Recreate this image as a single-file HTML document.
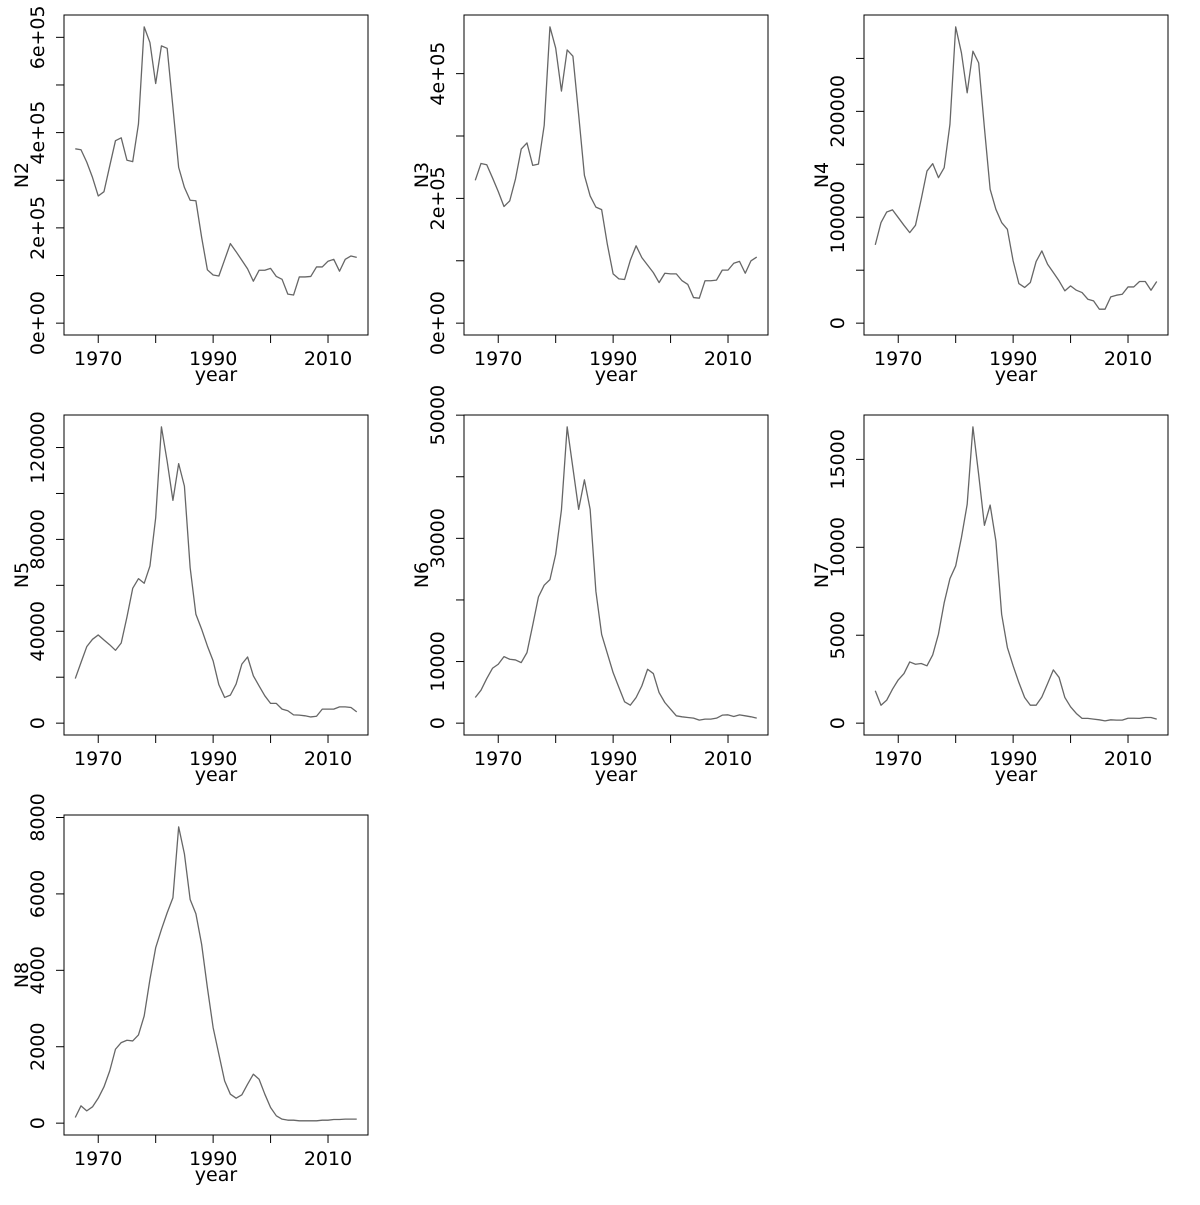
<!DOCTYPE html>
<html><head><meta charset="utf-8"><style>
html,body{margin:0;padding:0;background:#fff;}
svg text{font-family:"DejaVu Sans","Liberation Sans",sans-serif;font-size:19px;fill:#000;}
</style></head><body>
<svg id="chart" width="1200" height="1200" viewBox="0 0 1200 1200" xmlns="http://www.w3.org/2000/svg"></svg>
<script>
const years = [];
for (let y = 1966; y <= 2015; y++) years.push(y);
const xTicks = [1970, 1980, 1990, 2000, 2010];
const xTickLabels = ["1970", "", "1990", "", "2010"];

const n2 = [366,364,338,306,267,276,330,383,389,342,339,418,622,589,503,582,577,453,327,285,258,257,180,112,101,99,133,167,150,132,114,88,111,111,115,98,92,61,59,97,97,98,118,118,130,134,109,134,141,138].map(v=>v*1000);
const n3 = [229,256,254,233,211,187,196,231,279,289,253,255,317,475,441,372,438,428,334,237,204,186,182,126,79,71,70,101,124,105,93,81,65,80,79,79,68,62,41,40,68,68,69,85,85,96,99,80,100,106].map(v=>v*1000);
const n4 = [73.9,95,105,107,99.7,92.4,85.5,92.4,117,143.6,150.6,137.4,146.8,187.7,279.8,255.3,217.5,256.8,245.8,184.5,126.4,107.5,95,88.6,58.8,37.4,33.7,38.4,58.2,68.2,55.6,47.8,39.9,30.5,35.2,31.1,28.9,22.6,21,13.2,13.2,24.8,26.4,27.3,34.2,34.2,39.3,39.3,31.1,39.3].map(v=>v*1000);
const n5 = [19.4,26.4,33.3,36.5,38.4,36.2,34.1,31.7,34.9,46.2,58.7,62.9,60.9,68.4,89.4,129,114,97,113,103.2,67.7,47.4,40.9,33.6,27.1,16.7,11.2,12.2,17,25.7,28.8,20.6,16.2,11.9,8.6,8.6,6.1,5.4,3.6,3.5,3.2,2.7,3.0,6.1,6.1,6.1,7.1,7.1,6.8,4.9].map(v=>v*1000);
const n6 = [4.16,5.35,7.24,8.91,9.56,10.8,10.37,10.26,9.83,11.45,15.9,20.5,22.4,23.3,27.4,34.6,48.1,41.4,34.7,39.5,34.7,21.4,14.4,11.3,8.2,5.8,3.46,2.92,4.16,6.05,8.75,8.05,4.97,3.35,2.27,1.19,1.03,0.92,0.81,0.49,0.65,0.65,0.81,1.3,1.35,1.08,1.35,1.19,1.03,0.81].map(v=>v*1000);
const n7 = [1.84,1.02,1.31,1.93,2.46,2.82,3.48,3.35,3.39,3.26,3.88,5.06,6.85,8.22,8.94,10.55,12.44,16.85,14.14,11.25,12.4,10.36,6.19,4.3,3.26,2.31,1.46,1.02,1.02,1.49,2.25,3.03,2.6,1.46,0.93,0.55,0.27,0.27,0.23,0.19,0.13,0.19,0.17,0.17,0.28,0.28,0.27,0.32,0.32,0.23].map(v=>v*1000);
const n8 = [148,453,322,427,654,950,1368,1934,2108,2170,2152,2309,2806,3764,4592,5071,5507,5899,7755,7049,5855,5481,4679,3547,2501,1804,1106,758,654,741,1019,1281,1150,758,410,192,105,78,78,61,61,61,61,78,78,96,96,105,105,105];

const n2Ticks = [0,100000,200000,300000,400000,500000,600000];
const n2Labels = ["0e+00","","2e+05","","4e+05","","6e+05"];
const n3Ticks = [0,100000,200000,300000,400000];
const n3Labels = ["0e+00","","2e+05","","4e+05"];
const n4Ticks = [0,50000,100000,150000,200000,250000];
const n4Labels = ["0","","100000","","200000",""];
const n5Ticks = [0,20000,40000,60000,80000,100000,120000];
const n5Labels = ["0","","40000","","80000","","120000"];
const n6Ticks = [0,10000,20000,30000,40000,50000];
const n6Labels = ["0","10000","","30000","","50000"];
const n7Ticks = [0,5000,10000,15000];
const n7Labels = ["0","5000","10000","15000"];
const n8Ticks = [0,2000,4000,6000,8000];
const n8Labels = ["0","2000","4000","6000","8000"];

const panels = [
  {name:"N2", vals:n2, ticks:n2Ticks, labels:n2Labels, col:0, row:0},
  {name:"N3", vals:n3, ticks:n3Ticks, labels:n3Labels, col:1, row:0},
  {name:"N4", vals:n4, ticks:n4Ticks, labels:n4Labels, col:2, row:0},
  {name:"N5", vals:n5, ticks:n5Ticks, labels:n5Labels, col:0, row:1},
  {name:"N6", vals:n6, ticks:n6Ticks, labels:n6Labels, col:1, row:1},
  {name:"N7", vals:n7, ticks:n7Ticks, labels:n7Labels, col:2, row:1},
  {name:"N8", vals:n8, ticks:n8Ticks, labels:n8Labels, col:0, row:2}
];

const NS = "http://www.w3.org/2000/svg";
const svg = document.getElementById("chart");
function mk(tag, attrs, parent){
  const e = document.createElementNS(NS, tag);
  for (const k in attrs) e.setAttribute(k, attrs[k]);
  parent.appendChild(e);
  return e;
}

panels.forEach(p => {
  const L = 64 + p.col*400, T = 15 + p.row*400, W = 304, H = 320;
  const xmin = Math.min(...years), xmax = Math.max(...years);
  const xpad = (xmax - xmin)*0.04;
  const xs = v => L + (v - (xmin - xpad)) / ((xmax + xpad) - (xmin - xpad)) * W;
  const ymax = Math.max(...p.vals), ymin = 0;
  const ypad = (ymax - ymin)*0.04;
  const ys = v => T + H - (v - (ymin - ypad)) / ((ymax + ypad) - (ymin - ypad)) * H;

  const g = mk("g", {}, svg);
  
  

  const box = mk("rect", {x:L, y:T, width:W, height:H, fill:"none", stroke:"#000", "stroke-width":1}, g);
  
  

  const pts = p.vals.map((v,i) => xs(years[i]).toFixed(2) + "," + ys(v).toFixed(2)).join(" ");
  const line = mk("polyline", {points:pts, fill:"none", stroke:"#666", "stroke-width":1.3, "stroke-linejoin":"round"}, g);
  
  

  const xg = mk("g", {}, g);
  
  
  xTicks.forEach((t,i) => {
    const x = xs(t);
    const tk = mk("line", {x1:x, x2:x, y1:T+H, y2:T+H+8, stroke:"#000", "stroke-width":1}, xg);
    
    
    if (xTickLabels[i]) {
      const tx = mk("text", {x:x, y:T+H+30, "text-anchor":"middle"}, xg);
      tx.textContent = xTickLabels[i];
      
      
    }
  });
  const xt = mk("text", {x:L+W/2, y:T+H+46, "text-anchor":"middle"}, g);
  xt.textContent = "year";
  
  

  const yg = mk("g", {}, g);
  
  
  p.ticks.forEach((t,i) => {
    const y = ys(t);
    const tk = mk("line", {x1:L-8, x2:L, y1:y, y2:y, stroke:"#000", "stroke-width":1}, yg);
    
    
    if (p.labels[i]) {
      const lx = L - 20;
      const tx = mk("text", {x:lx, y:y, "text-anchor":"middle", transform:"rotate(-90 "+lx+" "+y+")"}, yg);
      tx.textContent = p.labels[i];
      
      
    }
  });
  const tx0 = L - 36, ty0 = T + H/2;
  const yt = mk("text", {x:tx0, y:ty0, "text-anchor":"middle", transform:"rotate(-90 "+tx0+" "+ty0+")"}, g);
  yt.textContent = p.name;
  
  
});
</script>
</body></html>
